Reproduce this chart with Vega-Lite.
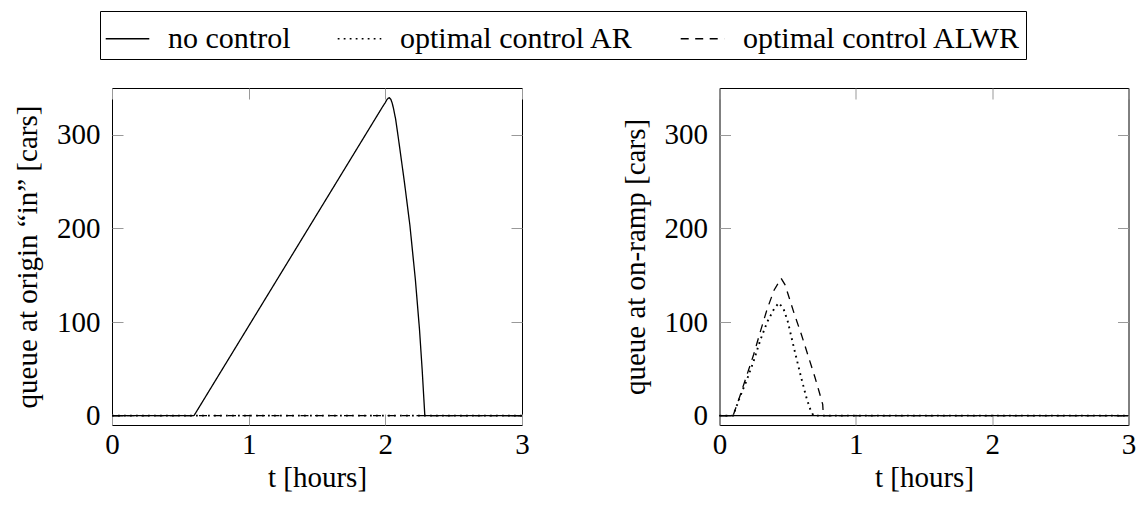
{
  "$schema": "https://vega.github.io/schema/vega-lite/v6.json",
  "padding": {"left": 13, "top": 10, "right": 5, "bottom": 5},
  "config": {
    "font": "Liberation Serif",
    "view": {"stroke": "black", "strokeWidth": 1},
    "axis": {"grid": false, "domain": false, "tickColor": "#999999", "tickSize": -11, "tickWidth": 1,
             "labelFontSize": 29, "titleFontSize": 29, "labelColor": "black", "titleColor": "black",
             "titleFontWeight": "normal", "labelFont": "Liberation Serif", "titleFont": "Liberation Serif",
             "labelPadding": 23, "titlePadding": 14, "labelFlush": false},
    "axisX": {"labelPadding": 16, "titlePadding": 4},
    "legend": {"labelFont": "Liberation Serif"}
  },
  "datasets": {
    "d": [
      {"panel": "left", "series": "no control", "t": 0, "q": 0},
      {"panel": "left", "series": "no control", "t": 0.6, "q": 0},
      {"panel": "left", "series": "no control", "t": 1.98, "q": 330},
      {"panel": "left", "series": "no control", "t": 2.0, "q": 334.5},
      {"panel": "left", "series": "no control", "t": 2.01, "q": 337.3},
      {"panel": "left", "series": "no control", "t": 2.02, "q": 339},
      {"panel": "left", "series": "no control", "t": 2.03, "q": 339.5},
      {"panel": "left", "series": "no control", "t": 2.04, "q": 338},
      {"panel": "left", "series": "no control", "t": 2.05, "q": 334},
      {"panel": "left", "series": "no control", "t": 2.06, "q": 328},
      {"panel": "left", "series": "no control", "t": 2.075, "q": 317},
      {"panel": "left", "series": "no control", "t": 2.09, "q": 302},
      {"panel": "left", "series": "no control", "t": 2.11, "q": 281},
      {"panel": "left", "series": "no control", "t": 2.14, "q": 249},
      {"panel": "left", "series": "no control", "t": 2.18, "q": 203},
      {"panel": "left", "series": "no control", "t": 2.22, "q": 145},
      {"panel": "left", "series": "no control", "t": 2.25, "q": 92},
      {"panel": "left", "series": "no control", "t": 2.27, "q": 48},
      {"panel": "left", "series": "no control", "t": 2.289, "q": 0},
      {"panel": "left", "series": "no control", "t": 3, "q": 0},
      {"panel": "left", "series": "optimal control AR", "t": 0, "q": 0},
      {"panel": "left", "series": "optimal control AR", "t": 3, "q": 0},
      {"panel": "left", "series": "optimal control ALWR", "t": 0, "q": 0},
      {"panel": "left", "series": "optimal control ALWR", "t": 3, "q": 0},
      {"panel": "right", "series": "no control", "t": 0, "q": 0},
      {"panel": "right", "series": "no control", "t": 3, "q": 0},
      {"panel": "right", "series": "optimal control AR", "t": 0, "q": 0},
      {"panel": "right", "series": "optimal control AR", "t": 0.1, "q": 0},
      {"panel": "right", "series": "optimal control AR", "t": 0.15, "q": 20},
      {"panel": "right", "series": "optimal control AR", "t": 0.2, "q": 38},
      {"panel": "right", "series": "optimal control AR", "t": 0.25, "q": 58},
      {"panel": "right", "series": "optimal control AR", "t": 0.3, "q": 81},
      {"panel": "right", "series": "optimal control AR", "t": 0.35, "q": 100},
      {"panel": "right", "series": "optimal control AR", "t": 0.4, "q": 114},
      {"panel": "right", "series": "optimal control AR", "t": 0.435, "q": 120.5},
      {"panel": "right", "series": "optimal control AR", "t": 0.47, "q": 114},
      {"panel": "right", "series": "optimal control AR", "t": 0.5, "q": 101},
      {"panel": "right", "series": "optimal control AR", "t": 0.55, "q": 70},
      {"panel": "right", "series": "optimal control AR", "t": 0.6, "q": 40},
      {"panel": "right", "series": "optimal control AR", "t": 0.64, "q": 18},
      {"panel": "right", "series": "optimal control AR", "t": 0.67, "q": 5},
      {"panel": "right", "series": "optimal control AR", "t": 0.69, "q": 0},
      {"panel": "right", "series": "optimal control AR", "t": 3, "q": 0},
      {"panel": "right", "series": "optimal control ALWR", "t": 0, "q": 0},
      {"panel": "right", "series": "optimal control ALWR", "t": 0.1, "q": 0},
      {"panel": "right", "series": "optimal control ALWR", "t": 0.15, "q": 21},
      {"panel": "right", "series": "optimal control ALWR", "t": 0.2, "q": 43},
      {"panel": "right", "series": "optimal control ALWR", "t": 0.25, "q": 65},
      {"panel": "right", "series": "optimal control ALWR", "t": 0.3, "q": 90},
      {"panel": "right", "series": "optimal control ALWR", "t": 0.35, "q": 114},
      {"panel": "right", "series": "optimal control ALWR", "t": 0.4, "q": 134},
      {"panel": "right", "series": "optimal control ALWR", "t": 0.452, "q": 146.7},
      {"panel": "right", "series": "optimal control ALWR", "t": 0.48, "q": 140},
      {"panel": "right", "series": "optimal control ALWR", "t": 0.5, "q": 131},
      {"panel": "right", "series": "optimal control ALWR", "t": 0.55, "q": 108},
      {"panel": "right", "series": "optimal control ALWR", "t": 0.6, "q": 87},
      {"panel": "right", "series": "optimal control ALWR", "t": 0.65, "q": 64},
      {"panel": "right", "series": "optimal control ALWR", "t": 0.7, "q": 41},
      {"panel": "right", "series": "optimal control ALWR", "t": 0.73, "q": 26},
      {"panel": "right", "series": "optimal control ALWR", "t": 0.757, "q": 12},
      {"panel": "right", "series": "optimal control ALWR", "t": 0.762, "q": 0},
      {"panel": "right", "series": "optimal control ALWR", "t": 3, "q": 0}
    ]
  },
  "data": {"name": "d"},
  "bounds": "flush",
  "spacing": 197.5,
  "resolve": {"scale": {"strokeDash": "shared"}, "legend": {"strokeDash": "shared"}},
  "hconcat": [
    {
      "width": 410, "height": 337,
      "transform": [{"filter": "datum.panel == 'left'"}],
      "layer": [
        {
          "transform": [{"filter": "datum.series != 'optimal control AR'"}],
          "mark": {"type": "line", "color": "black", "strokeWidth": 1.3},
          "encoding": {
            "x": {"field": "t", "type": "quantitative", "scale": {"domain": [0, 3], "nice": false},
                  "axis": {"values": [0, 1, 2, 3], "title": "t [hours]"}},
            "y": {"field": "q", "type": "quantitative", "scale": {"domain": [-10, 350], "nice": false, "zero": false},
                  "axis": {"values": [0, 100, 200, 300], "title": "queue at origin “in” [cars]"}},
            "strokeDash": {"field": "series", "type": "nominal",
              "scale": {"domain": ["no control", "optimal control AR", "optimal control ALWR"], "range": [[1, 0], [1.8, 4.2], [8, 6.5]]},
              "legend": {"orient": "none", "legendX": -12, "legendY": -77, "direction": "horizontal", "title": null,
                "strokeColor": "black", "padding": 5, "symbolType": "stroke", "symbolStrokeColor": "black",
                "symbolSize": 1900, "symbolStrokeWidth": 1.3, "labelFontSize": 30, "labelOffset": 18,
                "columnPadding": 44, "labelLimit": 500, "labelColor": "black"}}
          }
        },
        {
          "transform": [{"filter": "datum.series == 'optimal control AR'"}],
          "mark": {"type": "line", "color": "black", "strokeWidth": 1.9},
          "encoding": {
            "x": {"field": "t", "type": "quantitative", "scale": {"domain": [0, 3], "nice": false}, "axis": null},
            "y": {"field": "q", "type": "quantitative", "scale": {"domain": [-10, 350], "nice": false, "zero": false}, "axis": null},
            "strokeDash": {"field": "series", "type": "nominal",
              "scale": {"domain": ["no control", "optimal control AR", "optimal control ALWR"], "range": [[1, 0], [1.8, 4.2], [8, 6.5]]}}
          }
        },
        {
          "mark": {"type": "point", "opacity": 0},
          "encoding": {
            "x": {"field": "t", "type": "quantitative", "scale": {"domain": [0, 3], "nice": false},
                  "axis": {"orient": "top", "values": [0, 1, 2, 3], "labels": false, "title": null}},
            "y": {"field": "q", "type": "quantitative", "scale": {"domain": [-10, 350], "nice": false, "zero": false},
                  "axis": {"orient": "right", "values": [0, 100, 200, 300], "labels": false, "title": null}}
          }
        }
      ],
      "resolve": {"axis": {"x": "independent", "y": "independent"}}
    },
    {
      "width": 409, "height": 337,
      "transform": [{"filter": "datum.panel == 'right'"}],
      "layer": [
        {
          "transform": [{"filter": "datum.series != 'optimal control AR'"}],
          "mark": {"type": "line", "color": "black", "strokeWidth": 1.3},
          "encoding": {
            "x": {"field": "t", "type": "quantitative", "scale": {"domain": [0, 3], "nice": false},
                  "axis": {"values": [0, 1, 2, 3], "title": "t [hours]"}},
            "y": {"field": "q", "type": "quantitative", "scale": {"domain": [-10, 350], "nice": false, "zero": false},
                  "axis": {"values": [0, 100, 200, 300], "title": "queue at on-ramp [cars]"}},
            "strokeDash": {"field": "series", "type": "nominal",
              "scale": {"domain": ["no control", "optimal control AR", "optimal control ALWR"], "range": [[1, 0], [1.8, 4.2], [8, 6.5]]},
              "legend": null}
          }
        },
        {
          "transform": [{"filter": "datum.series == 'optimal control AR'"}],
          "mark": {"type": "line", "color": "black", "strokeWidth": 1.9},
          "encoding": {
            "x": {"field": "t", "type": "quantitative", "scale": {"domain": [0, 3], "nice": false}, "axis": null},
            "y": {"field": "q", "type": "quantitative", "scale": {"domain": [-10, 350], "nice": false, "zero": false}, "axis": null},
            "strokeDash": {"field": "series", "type": "nominal",
              "scale": {"domain": ["no control", "optimal control AR", "optimal control ALWR"], "range": [[1, 0], [1.8, 4.2], [8, 6.5]]},
              "legend": null}
          }
        },
        {
          "mark": {"type": "point", "opacity": 0},
          "encoding": {
            "x": {"field": "t", "type": "quantitative", "scale": {"domain": [0, 3], "nice": false},
                  "axis": {"orient": "top", "values": [0, 1, 2, 3], "labels": false, "title": null}},
            "y": {"field": "q", "type": "quantitative", "scale": {"domain": [-10, 350], "nice": false, "zero": false},
                  "axis": {"orient": "right", "values": [0, 100, 200, 300], "labels": false, "title": null}}
          }
        }
      ],
      "resolve": {"axis": {"x": "independent", "y": "independent"}}
    }
  ]
}
